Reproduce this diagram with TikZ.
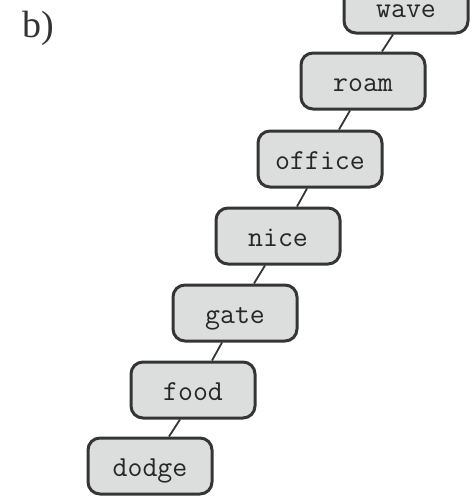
\documentclass[tikz,border=0pt]{standalone}
\usepackage{fontspec}
\setmainfont{Liberation Serif}
\definecolor{boxfill}{HTML}{DCDDDD}
\definecolor{boxedge}{HTML}{353535}
\begin{document}
\begin{tikzpicture}[x=1pt,y=-1pt,
  wordbox/.style={draw=boxedge, fill=boxfill, line width=3pt, rounded corners=12pt,
    minimum width=124pt, minimum height=56pt, inner sep=0pt,
    text height=20pt, text depth=0pt,
    font=\ttfamily\fontsize{29}{29}\selectfont, text=black!85},
  link/.style={draw=boxedge, line width=1.8pt}]
\useasboundingbox (0,0) rectangle (475,499);
\clip (0,0) rectangle (475,499);
\node[anchor=base west, font=\fontsize{38}{38}\selectfont, text=black!80] (lbl) at (19,37) {b)};
\node[wordbox, text height=24pt] (wave) at (406,5) {wave};
\node[wordbox] (roam)   at (363,81)  {roam};
\node[wordbox] (office) at (320,159) {office};
\node[wordbox] (nice)   at (278,236) {nice};
\node[wordbox] (gate)   at (235,313) {gate};
\node[wordbox] (food)   at (193,390) {food};
\node[wordbox] (dodge)  at (150,466) {dodge};
\foreach \a/\b in {wave/roam, roam/office, office/nice, nice/gate, gate/food, food/dodge}{
  \draw[link] ([xshift=-13pt]\a.south) -- ([xshift=19pt]\b.north);
}
\end{tikzpicture}
\end{document}
